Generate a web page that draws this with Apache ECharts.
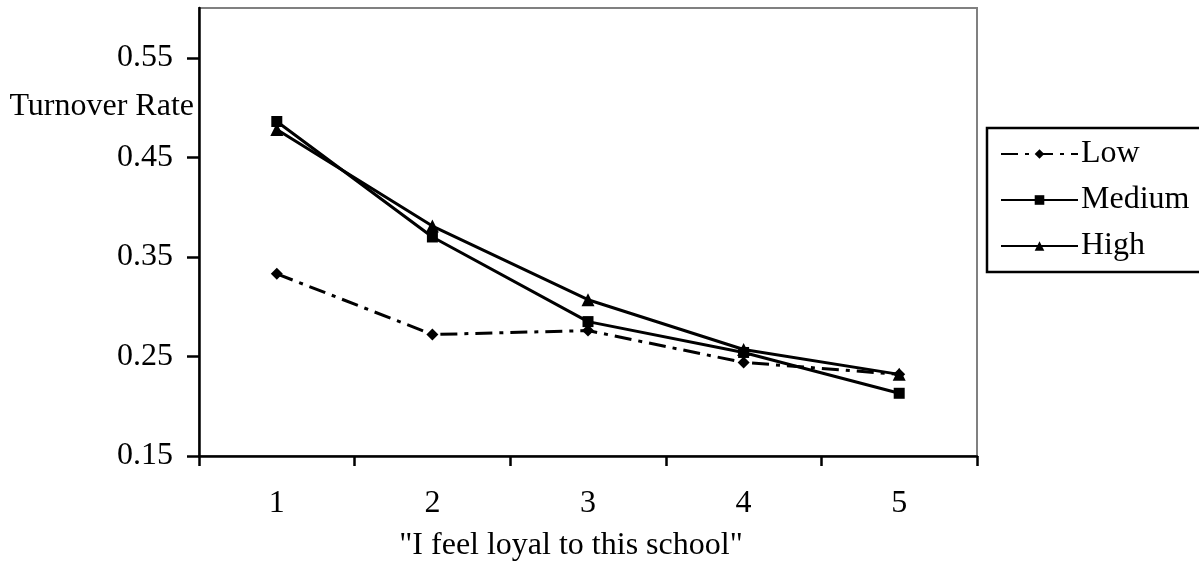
<!DOCTYPE html>
<html>
<head>
<meta charset="utf-8">
<script src="https://cdn.jsdelivr.net/npm/echarts@6/dist/echarts.min.js"></script>
<style>
html,body{margin:0;padding:0;background:#fff;}
#chart{width:1199px;height:565px;}
</style>
</head>
<body>
<div id="chart"></div>
<script>
var categories = ['1', '2', '3', '4', '5'];
var lowValues = [0.333, 0.272, 0.276, 0.244, 0.232];
var mediumValues = [0.486, 0.370, 0.285, 0.254, 0.213];
var highValues = [0.478, 0.381, 0.307, 0.257, 0.232];
var yTicks = [0.15, 0.25, 0.35, 0.45, 0.55];
var yAxisTitle = 'Turnover Rate';
var xAxisTitle = '"I feel loyal to this school"';

var FONT = 'Liberation Serif, Times New Roman, serif';
var chart = echarts.init(document.getElementById('chart'), null, {renderer: 'canvas'});
chart.setOption({
  backgroundColor: '#fff',
  animation: false,
  grid: {
    left: 199, top: 8, right: 222, bottom: 109,
    show: true, borderColor: '#808080', borderWidth: 2, backgroundColor: 'transparent'
  },
  legend: {
    left: 987, top: 128,
    orient: 'vertical',
    selectedMode: false,
    borderColor: '#000', borderWidth: 2.5,
    padding: [10, 40, 10, 13],
    itemWidth: 77, itemHeight: 12, itemGap: 14,
    textStyle: {fontFamily: FONT, fontSize: 32, color: '#000', padding: [0, 0, 0, -2]},
    data: ['Low', 'Medium', 'High']
  },
  xAxis: {
    type: 'category',
    data: categories,
    boundaryGap: true,
    axisLine: {lineStyle: {color: '#000', width: 2.5}},
    axisTick: {show: true, length: 10, inside: false, lineStyle: {color: '#000', width: 2.5}},
    axisLabel: {fontFamily: FONT, fontSize: 32, color: '#000', margin: 32},
    splitLine: {show: false}
  },
  yAxis: {
    type: 'value',
    min: 0.15, max: 0.6,
    axisLine: {show: true, lineStyle: {color: '#000', width: 2.5}},
    axisTick: {show: true, length: 12, customValues: yTicks, lineStyle: {color: '#000', width: 2.5}},
    axisLabel: {fontFamily: FONT, fontSize: 32, color: '#000', margin: 26, customValues: yTicks,
      formatter: function (v) { return v.toFixed(2); }},
    splitLine: {show: false}
  },
  graphic: [
    {type: 'text', x: 194, y: 107, style: {text: yAxisTitle, font: '32px ' + FONT, fill: '#000',
      textAlign: 'right', textVerticalAlign: 'middle', align: 'right', verticalAlign: 'middle'}},
    {type: 'text', x: 571, y: 546, style: {text: xAxisTitle, font: '32px ' + FONT, fill: '#000',
      textAlign: 'center', textVerticalAlign: 'middle', align: 'center', verticalAlign: 'middle'}}
  ],
  series: [
    {name: 'Low', type: 'line', data: lowValues, symbol: 'diamond', symbolSize: 12,
      lineStyle: {color: '#000', width: 3, type: [17, 7, 4, 7]},
      itemStyle: {color: '#000'}},
    {name: 'Medium', type: 'line', data: mediumValues, symbol: 'rect', symbolSize: 11,
      lineStyle: {color: '#000', width: 3},
      itemStyle: {color: '#000'}},
    {name: 'High', type: 'line', data: highValues, symbol: 'triangle', symbolSize: 13,
      lineStyle: {color: '#000', width: 3},
      itemStyle: {color: '#000'}}
  ]
});
</script>
</body>
</html>
